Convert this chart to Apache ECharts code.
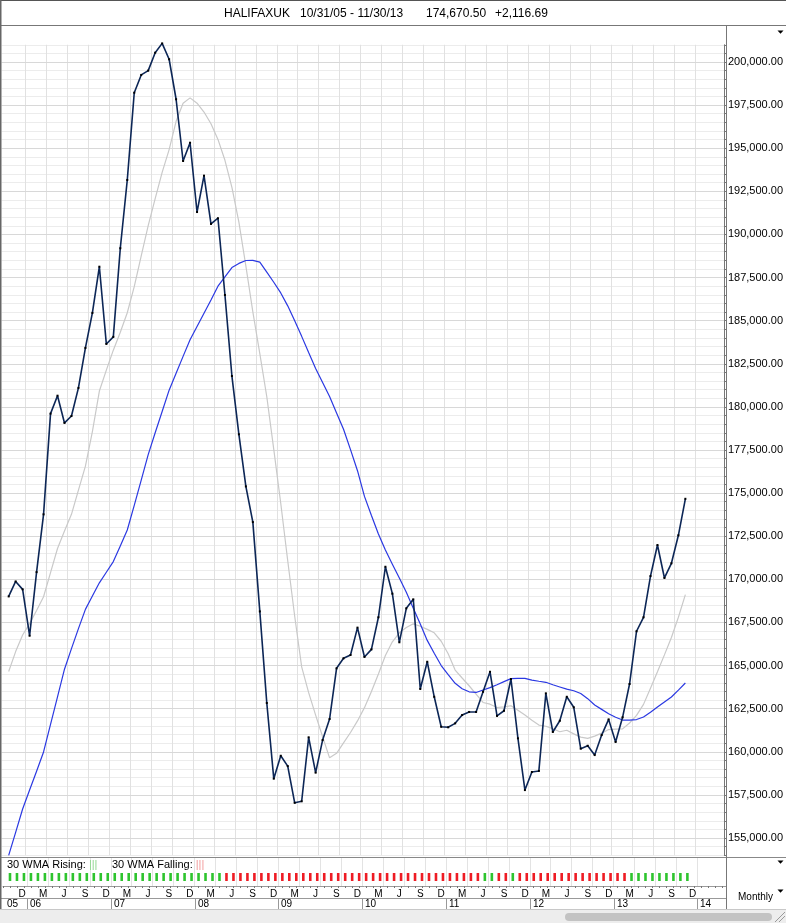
<!DOCTYPE html>
<html><head><meta charset="utf-8">
<script src="https://cdn.jsdelivr.net/npm/echarts@6/dist/echarts.min.js"></script>
<style>html,body{margin:0;padding:0;background:#fff}#c{width:786px;height:923px}</style>
</head><body><div id="c"></div>
<script>
// ---------- data ----------
const startYear = 2005, startMonth = 10; // first bar: Oct 2005
const monthLetters = ['J','F','M','A','M','J','J','A','S','O','N','D'];
const yearLabels = ['05','06','07','08','09','10','11','12','13','14'];
const yTickLabels = [155000,157500,160000,162500,165000,167500,170000,172500,175000,177500,180000,182500,185000,187500,190000,192500,195000,197500,200000];
const titleParts = ['HALIFAXUK', '10/31/05 - 11/30/13', '174,670.50', '+2,116.69'];

const closeVals = [
169010,169880,169420,166730,170420,173770,179610,180650,179070,179470,
181100,183420,185450,188130,183650,184060,189200,193160,198220,199250,
199500,200540,201080,200160,197840,194260,195320,191300,193410,190610,
190940,186490,181790,178410,175390,173320,168140,162830,158440,159770,
159170,157040,157130,160840,158790,160680,161900,164840,165420,165610,
167200,165500,165940,167800,170730,169170,166350,168320,168840,163640,
165220,163190,161450,161420,161650,162130,162310,162310,163480,164640,
162080,162380,164220,160780,157780,158830,158890,163390,161150,161800,
163190,162580,160180,160350,159810,160970,161880,160570,162000,163930,
166990,167800,170190,171990,170080,170930,172553.81,174670.50];

const wma30 = [
153990,155330,156680,157780,158870,159990,161590,163190,164790,165980,
167140,168260,169030,169800,170410,171030,171940,172860,174290,175750,
177230,178500,179730,180970,181950,182930,183890,184660,185430,186200,
187000,187540,188080,188320,188490,188500,188400,187820,187230,186610,
185860,184990,184090,183150,182230,181420,180600,179650,178700,177520,
176300,174810,173700,172630,171700,170880,170080,169250,168330,167410,
166460,165710,165000,164470,163970,163660,163480,163440,163580,163720,
163890,164070,164240,164260,164260,164160,164090,164030,163890,163760,
163630,163540,163380,163080,162710,162460,162210,162000,161840,161840,
161870,162020,162290,162600,162890,163180,163580,163990];

const maShort = [
164660,165810,166770,167430,168190,168990,170390,171790,172800,173770,
175170,176570,178570,180920,182130,183290,184330,185460,186970,188760,
190510,192080,193600,194920,196560,197610,197920,197610,197100,196420,
195510,194300,192730,190720,188170,185510,183090,180590,177540,174410,
171080,167860,164920,163430,162130,160870,159650,159910,160520,161120,
161790,162560,163500,164510,165580,166380,166900,167210,167420,167280,
167100,166900,166410,165690,164740,164280,163830,163350,162860,162760,
162570,162610,162670,162410,162130,161830,161550,161480,161340,161160,
161250,161040,160850,160780,160910,161080,161290,161320,161330,161670,
162110,162750,163690,164640,165620,166630,167800,169110];

// 1 = 30 WMA rising (green), 0 = falling (red)
const wmaRising = [
1,1,1,1,1,1,1,1,1,1,1,1,1,1,1,1,1,1,1,1,1,1,1,1,1,1,1,1,1,1,1,
0,0,0,0,0,0,0,0,0,0,0,0,0,0,0,0,0,0,0,0,0,0,0,0,0,0,0,0,0,0,0,0,0,0,0,0,0,
1,1,0,0,1,
0,0,0,0,0,0,0,0,0,0,0,0,0,0,0,0,
1,1,1,1,1,1,1,1,1];

// ---------- helpers ----------
const FONT = '"Liberation Sans", Arial, Helvetica, sans-serif';
const monthOf = i => ((startMonth - 1 + i) % 12) + 1;       // 1..12
const N = closeVals.length;
function fmtNum(v){
  const s = v.toFixed(2); const [a,b] = s.split('.');
  return a.replace(/\B(?=(\d{3})+(?!\d))/g, ',') + '.' + b;
}
const QOFF = 0.43; // quarter boundary offset after a quarter-end month
const quarterLines = [];
for (let i = 0; i < N + 1; i++) if (monthOf(i) % 3 === 0 && i <= 98) quarterLines.push(i + QOFF);

const xMin = -1, xMax = 102.53;

const option = {
  animation: false,
  backgroundColor: '#fff',
  grid: [
    {left: 1.7, right: 60, top: 44.76, height: 810.5},
    {left: 1.7, right: 60, top: 857, height: 29}
  ],
  xAxis: [
    {gridIndex: 0, type: 'value', min: xMin, max: xMax, show: false},
    {gridIndex: 1, type: 'value', min: xMin, max: xMax, interval: 1,
     axisLine: {show: true, onZero: false, lineStyle: {color: '#9a9a9a', width: 1}},
     axisTick: {show: true, length: 2, lineStyle: {color: '#777'}},
     splitLine: {show: false},
     axisLabel: {show: true, margin: 3, fontSize: 10, color: '#000', fontFamily: FONT,
       padding: [0, 3.5, 0, 0], showMinLabel: true, showMaxLabel: true,
       formatter: v => {
         if (!Number.isInteger(v) || v < 0 || v > 98) return '';
         const m = monthOf(v);
         return (m % 3 === 0) ? monthLetters[m - 1] : '';
       }}}
  ],
  yAxis: [
    {gridIndex: 0, type: 'value', position: 'right', min: 154000, max: 201000, interval: 500,
     axisLine: {show: true, onZero: false, lineStyle: {color: '#777'}},
     axisTick: {show: true, length: 3, lineStyle: {color: '#777'}},
     axisLabel: {margin: 4, fontSize: 11, color: '#000', fontFamily: FONT,
       formatter: v => yTickLabels.indexOf(v) >= 0 ? fmtNum(v) : ''},
     splitLine: {show: true, lineStyle: {color: '#ececec', width: 1}}},
    {gridIndex: 1, type: 'value', min: 0, max: 29, show: false}
  ],
  series: [
    {name: 'MA', type: 'line', xAxisIndex: 0, yAxisIndex: 0, z: 2,
     data: maShort.map((v, i) => [i, v]), showSymbol: false, smooth: false,
     lineStyle: {color: '#c9c9c9', width: 1.2}, silent: true,
     markLine: {silent: true, symbol: ['none', 'none'], z: 1, label: {show: false},
       emphasis: {disabled: true}, animation: false,
       data: quarterLines.map(x => ({xAxis: x, lineStyle: {color: '#e1e1e1', width: 1, type: 'solid'}}))
         .concat(yTickLabels.map(y => ({yAxis: y, lineStyle: {color: '#d8d8d8', width: 1, type: 'solid'}})))}},
    {name: '30 WMA', type: 'line', xAxisIndex: 0, yAxisIndex: 0, z: 3,
     data: wma30.map((v, i) => [i, v]), showSymbol: false, clip: false,
     lineStyle: {color: '#2a38e2', width: 1.2}, silent: true},
    {name: 'HALIFAXUK', type: 'line', xAxisIndex: 0, yAxisIndex: 0, z: 4,
     data: closeVals.map((v, i) => [i, v]), clip: false,
     symbol: 'rect', symbolSize: 2, showSymbol: true,
     itemStyle: {color: '#000'}, lineStyle: {color: '#0c2656', width: 1.6}, silent: true},
    {name: 'WMA state', type: 'scatter', xAxisIndex: 1, yAxisIndex: 1, z: 3,
     symbol: 'rect', symbolSize: [2.6, 8], silent: true,
     data: wmaRising.map((r, i) => ({value: [i, 9], itemStyle: {color: r ? '#2ec42e' : '#ee1c24', opacity: 1}})),
     markLine: {silent: true, symbol: ['none', 'none'], z: 1, label: {show: false},
       emphasis: {disabled: true}, animation: false,
       data: quarterLines.map(x => ({xAxis: x, lineStyle: {color: '#e3e3e3', width: 1, type: 'solid'}}))}}
  ]
};

const chart = echarts.init(document.getElementById('c'), null, {renderer: 'canvas'});
chart.setOption(option);

// ---------- chrome (graphic) ----------
const px = i => chart.convertToPixel({xAxisIndex: 1}, i);
const g = [];
const line = (x1, y1, x2, y2, c, w) => g.push({type: 'line', silent: true, z: 50,
  shape: {x1, y1, x2, y2}, style: {stroke: c, lineWidth: w || 1}});
const text = (t, x, y, size, opts) => g.push(Object.assign({type: 'text', silent: true, z: 60, x, y,
  style: Object.assign({text: t, fontSize: size, fontFamily: FONT, fill: '#000',
    textAlign: 'left', textVerticalAlign: 'middle'}, (opts && opts.style) || {})}));

// title bar
line(0, 0.5, 786, 0.5, '#555', 1);
line(0, 25.5, 786, 25.5, '#777', 1);
text(titleParts[0], 224, 14, 12);
text(titleParts[1], 300, 14, 12);
text(titleParts[2], 426, 14, 12);
text(titleParts[3], 495, 14, 12);

// bottom area
g.push({type: 'rect', silent: true, z: 40, shape: {x: 0, y: 909, width: 786, height: 14}, style: {fill: '#ededed'}});
line(0, 909.5, 786, 909.5, '#c8c8c8', 1);
g.push({type: 'rect', silent: true, z: 45, shape: {x: 565, y: 913, width: 207, height: 8, r: 4}, style: {fill: '#c3c3c3'}});
line(775, 922, 785, 912, '#9a9a9a', 1);
line(779, 922, 785, 916, '#9a9a9a', 1);
line(0, 857.5, 786, 857.5, '#888', 1);
line(0, 898.5, 726, 898.5, '#999', 1);
line(726.5, 26, 726.5, 909, '#777', 1);
g.push({type: 'rect', silent: true, z: 55, shape: {x: 0, y: 0, width: 1.5, height: 909}, style: {fill: '#666'}});

// indicator legend
g.push({type: 'text', silent: true, z: 60, x: 7, y: 865, style: {
  text: '30 WMA Rising: {g||||}', fontSize: 11, fontFamily: FONT, fill: '#000', textVerticalAlign: 'middle',
  rich: {g: {fill: '#8fd88f', fontSize: 11, fontFamily: FONT}}}});
g.push({type: 'text', silent: true, z: 60, x: 112, y: 865, style: {
  text: '30 WMA Falling: {r||||}', fontSize: 11, fontFamily: FONT, fill: '#000', textVerticalAlign: 'middle',
  rich: {r: {fill: '#f29a9a', fontSize: 11, fontFamily: FONT}}}});

// year row
text(yearLabels[0], 7, 904.5, 10);
let yi = 1;
for (let i = 0; i < N + 1; i++) {
  if (monthOf(i) === 12 && yi < yearLabels.length) {
    const x = Math.round(px(i + QOFF)) + 0.5;
    line(x, 898, x, 909, '#999', 1);
    text(yearLabels[yi], x + 2.5, 904.5, 10);
    yi++;
  }
}

// right panel
text('Monthly', 738, 897.5, 10);
const tri = (cx, cy) => g.push({type: 'polygon', silent: true, z: 60,
  shape: {points: [[cx - 3, cy - 1.5], [cx + 3, cy - 1.5], [cx, cy + 1.8]]}, style: {fill: '#000'}});
tri(780.5, 32); tri(780.5, 862); tri(780.5, 891);

chart.setOption({graphic: g});
</script></body></html>
